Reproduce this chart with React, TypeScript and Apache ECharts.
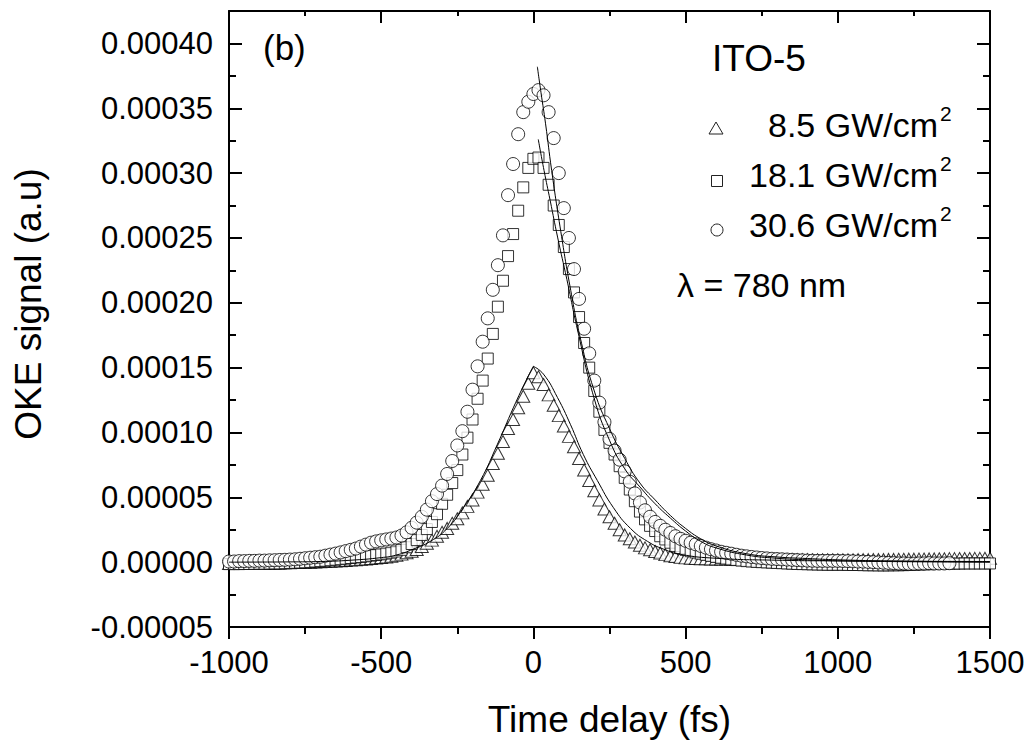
import React, { useEffect, useRef } from "react";
import * as echarts from "echarts";

// Delay grid (fs): regular sampling from X_START with step X_STEP
const X_START = -1000;
const X_STEP = 50 / 3;

// OKE signal in units of 1e-5 (a.u.)
const TRI_8_5 = [
  -0.1, -0.1, -0.1, -0.1, -0.09, -0.09, -0.08, -0.08, -0.07, -0.07,
  -0.06, -0.05, -0.04, -0.03, -0.02, -0.01, 0.0, 0.01, 0.03, 0.05,
  0.07, 0.09, 0.11, 0.13, 0.16, 0.19, 0.22, 0.25, 0.28, 0.32,
  0.36, 0.4, 0.46, 0.53, 0.62, 0.72, 0.84, 0.98, 1.2, 1.45,
  1.7, 2.0, 2.3, 2.6, 3.0, 3.35, 3.8, 4.3, 4.8, 5.4,
  6.0, 6.7, 7.6, 8.4, 9.3, 10.3, 11.0, 11.9, 12.8, 13.8,
  14.6, 14.3, 13.7, 12.9, 12.1, 11.3, 10.5, 9.7, 8.9, 8.0,
  7.1, 6.3, 5.5, 4.8, 4.1, 3.5, 3.0, 2.5, 2.1, 1.8,
  1.55, 1.3, 1.1, 0.95, 0.82, 0.7, 0.58, 0.5, 0.43, 0.37,
  0.33, 0.3, 0.28, 0.27, 0.26, 0.25, 0.25, 0.24, 0.24, 0.23,
  0.23, 0.22, 0.22, 0.22, 0.21, 0.21, 0.21, 0.2, 0.2, 0.2,
  0.2, 0.2, 0.19, 0.19, 0.19, 0.18, 0.18, 0.18, 0.18, 0.18,
  0.18, 0.18, 0.18, 0.18, 0.19, 0.19, 0.19, 0.2, 0.2, 0.2,
  0.21, 0.21, 0.22, 0.22, 0.23, 0.23, 0.24, 0.24, 0.25, 0.25,
  0.26, 0.26, 0.27, 0.27, 0.28, 0.28, 0.28, 0.29, 0.29, 0.3, 0.3,
];

const SQ_18_1 = [
  -0.15, -0.15, -0.15, -0.14, -0.14, -0.13, -0.12, -0.12, -0.11, -0.1,
  -0.1, -0.08, -0.06, -0.05, -0.03, -0.01, 0.02, 0.05, 0.08, 0.11,
  0.15, 0.19, 0.23, 0.27, 0.32, 0.36, 0.4, 0.45, 0.5, 0.55,
  0.6, 0.66, 0.73, 0.82, 0.95, 1.15, 1.4, 1.7, 2.1, 2.55,
  3.1, 3.7, 4.5, 5.2, 6.1, 7.1, 8.3, 9.6, 11.0, 12.6,
  14.0, 15.7, 17.6, 19.7, 21.7, 23.6, 25.3, 27.1, 28.9, 30.4,
  31.1, 31.2, 30.4, 29.1, 27.5, 26.0, 24.3, 22.6, 20.8, 18.9,
  16.9, 15.0, 13.2, 11.6, 10.2, 9.2, 8.3, 7.4, 6.5, 5.6,
  4.7, 3.9, 3.3, 2.8, 2.4, 2.0, 1.75, 1.5, 1.25, 1.08,
  0.95, 0.84, 0.74, 0.65, 0.56, 0.48, 0.4, 0.33, 0.27, 0.21,
  0.16, 0.12, 0.08, 0.05, 0.02, 0.0, -0.02, -0.04, -0.06, -0.08,
  -0.1, -0.12, -0.14, -0.15, -0.16, -0.17, -0.18, -0.19, -0.2, -0.2,
  -0.2, -0.2, -0.21, -0.22, -0.22, -0.23, -0.24, -0.24, -0.25, -0.25,
  -0.25, -0.24, -0.24, -0.23, -0.22, -0.2, -0.18, -0.17, -0.16, -0.15,
  -0.14, -0.13, -0.12, -0.12, -0.11, -0.1, -0.1, -0.1, -0.1, -0.1, -0.1,
];

const CIRC_30_6 = [
  0.05, 0.05, 0.08, 0.08, 0.1, 0.1, 0.12, 0.12, 0.14, 0.15,
  0.17, 0.18, 0.2, 0.22, 0.26, 0.3, 0.34, 0.38, 0.42, 0.5,
  0.58, 0.66, 0.75, 0.85, 0.95, 1.05, 1.2, 1.35, 1.5, 1.6,
  1.68, 1.75, 1.82, 1.9, 2.05, 2.3, 2.65, 3.05, 3.5, 4.05,
  4.7, 5.25, 5.9, 6.8, 7.8, 9.0, 10.1, 11.6, 13.3, 15.1,
  17.0, 18.8, 21.0, 22.9, 25.2, 28.3, 30.7, 33.0, 34.7, 35.5,
  36.1, 36.4, 36.0, 34.7, 32.7, 30.0, 27.3, 25.0, 22.6, 20.3,
  18.0, 16.1, 14.0, 12.3, 10.8, 9.5, 8.6, 7.9, 7.0, 6.2,
  5.3, 4.6, 4.0, 3.5, 3.1, 2.8, 2.5, 2.25, 2.0, 1.8,
  1.65, 1.5, 1.38, 1.25, 1.12, 1.0, 0.9, 0.8, 0.72, 0.65,
  0.57, 0.5, 0.45, 0.4, 0.36, 0.32, 0.29, 0.26, 0.24, 0.22,
  0.2, 0.18, 0.16, 0.14, 0.12, 0.11, 0.1, 0.1, 0.1, 0.1,
  0.1, 0.09, 0.08, 0.07, 0.05, 0.04, 0.02, 0.0, -0.02, -0.04,
  -0.06, -0.08, -0.1, -0.1, -0.12, -0.12, -0.1, -0.1, -0.08, -0.1,
  -0.1, -0.1, -0.08,
];

// Fit curves (x in fs, y in 1e-5)
const FIT_C_X = [13, 25, 40, 60, 90, 120, 155, 200, 250, 300, 350, 400, 450, 500, 550, 600, 700, 800, 900, 1000, 1200, 1500];
const FIT_C_Y = [38.2, 36.2, 33.8, 30.2, 25.5, 21.3, 17.2, 13.2, 10.3, 8.0, 6.1, 4.8, 3.6, 2.6, 1.8, 1.25, 0.65, 0.4, 0.28, 0.18, 0.08, 0.02];
const FIT_S_X = [16, 35, 55, 80, 110, 145, 200, 250, 300, 350, 400, 450, 500, 550, 600, 700, 800, 900, 1000, 1200, 1500];
const FIT_S_Y = [32.6, 30.2, 27.9, 25.0, 21.8, 17.9, 12.6, 9.4, 7.2, 5.8, 4.5, 3.4, 2.4, 1.6, 1.1, 0.55, 0.3, 0.18, 0.1, 0.04, 0.0];
const FIT_TL_X = [-1000, -800, -700, -600, -500, -450, -395, -339, -283, -230, -174, -118, -66, -20, 0];
const FIT_TL_Y = [0.0, 0.02, 0.05, 0.15, 0.35, 0.55, 1.0, 1.6, 2.6, 4.2, 6.3, 9.1, 11.9, 14.2, 15.1];
const FIT_TR_X = [0, 33, 79, 122, 164, 210, 263, 319, 375, 428, 483, 600, 800, 1000, 1500];
const FIT_TR_Y = [15.1, 14.5, 12.7, 10.6, 8.3, 6.3, 4.2, 2.6, 1.6, 1.0, 0.6, 0.3, 0.15, 0.1, 0.05];

// Axis ticks
const X_TICKS = [-1000, -500, 0, 500, 1000, 1500];
const X_MINOR = [-1000, -750, -500, -250, 0, 250, 500, 750, 1000, 1250, 1500];
const Y_TICKS = [-5, 0, 5, 10, 15, 20, 25, 30, 35, 40];
const Y_MINOR = [-5, -2.5, 0, 2.5, 5, 7.5, 10, 12.5, 15, 17.5, 20, 22.5, 25, 27.5, 30, 32.5, 35, 37.5, 40, 42.5];
const Y_MIN = -5;
const Y_MAX = 42.5;

const SERIES_NAMES = ["8.5 GW/cm", "18.1 GW/cm", "30.6 GW/cm"];

const FONT = '"Liberation Sans", Arial, Helvetica, sans-serif';

const grid = (arr: number[]) => arr.map((v, i) => [X_START + i * X_STEP, v]);
const pairs = (xs: number[], ys: number[]) => xs.map((x, i) => [x, ys[i]]);

export default function App() {
  const ref = useRef<HTMLDivElement>(null);
  useEffect(() => {
    if (!ref.current) return;
    const chart = echarts.init(ref.current, null, { renderer: "svg" });
    const lineStyle = { color: "#000", width: 2 };
    const baseX = {
      type: "value" as const,
      min: X_TICKS[0],
      max: X_TICKS[X_TICKS.length - 1],
      splitLine: { show: false },
    };
    const baseY = {
      type: "value" as const,
      min: Y_MIN,
      max: Y_MAX,
      splitLine: { show: false },
    };
    const marker = { color: "#fff", borderColor: "#000", borderWidth: 1 };
    const fitLine = { color: "#000", width: 1 };
    const txt = (text: string, x: number, y: number, size: number, align: string) => ({
      type: "text",
      x,
      y,
      style: {
        text, fill: "#000", fontSize: size, fontFamily: FONT,
        align, verticalAlign: "middle", textAlign: align, textVerticalAlign: "middle",
      },
    });
    chart.setOption({
      animation: false,
      backgroundColor: "#fff",
      grid: { left: 229, right: 43, top: 11, bottom: 117, containLabel: false, outerBoundsMode: "none" },
      xAxis: [
        {
          ...baseX,
          position: "bottom",
          interval: 500,
          axisLine: { show: true, onZero: false, lineStyle },
          axisTick: { show: true, inside: false, length: 12, lineStyle, customValues: X_TICKS },
          axisLabel: {
            show: true, color: "#000", fontSize: 31, fontFamily: FONT, margin: 20,
            customValues: X_TICKS, formatter: (v: number) => String(v),
          },
          name: "Time delay (fs)",
          nameLocation: "middle",
          nameGap: 74,
          nameTextStyle: { color: "#000", fontSize: 37, fontFamily: FONT },
        },
        {
          ...baseX,
          position: "bottom",
          interval: 250,
          axisLine: { show: false, onZero: false },
          axisTick: { show: true, inside: false, length: 7, lineStyle, customValues: X_MINOR },
          axisLabel: { show: false },
        },
        {
          ...baseX,
          position: "top",
          interval: 500,
          axisLine: { show: true, onZero: false, lineStyle },
          axisTick: { show: true, inside: true, length: 12, lineStyle, customValues: X_TICKS },
          axisLabel: { show: false },
        },
        {
          ...baseX,
          position: "top",
          interval: 250,
          axisLine: { show: false, onZero: false },
          axisTick: { show: true, inside: true, length: 5, lineStyle, customValues: X_MINOR },
          axisLabel: { show: false },
        },
      ],
      yAxis: [
        {
          ...baseY,
          position: "left",
          interval: 5,
          axisLine: { show: true, onZero: false, lineStyle },
          axisTick: { show: true, inside: true, length: 13, lineStyle, customValues: Y_TICKS },
          axisLabel: {
            show: true, color: "#000", fontSize: 31, fontFamily: FONT, margin: 16,
            customValues: Y_TICKS,
            formatter: (v: number) => (v * 1e-5).toFixed(5),
          },
          name: "OKE signal (a.u)",
          nameLocation: "middle",
          nameGap: 182,
          nameTextStyle: { color: "#000", fontSize: 37, fontFamily: FONT, padding: [0, 0, 0, 30] },
        },
        {
          ...baseY,
          position: "left",
          interval: 2.5,
          axisLine: { show: false, onZero: false },
          axisTick: { show: true, inside: true, length: 7, lineStyle, customValues: Y_MINOR },
          axisLabel: { show: false },
        },
        {
          ...baseY,
          position: "right",
          interval: 5,
          axisLine: { show: true, onZero: false, lineStyle },
          axisTick: { show: true, inside: true, length: 13, lineStyle, customValues: Y_TICKS },
          axisLabel: { show: false },
        },
        {
          ...baseY,
          position: "right",
          interval: 2.5,
          axisLine: { show: false, onZero: false },
          axisTick: { show: true, inside: true, length: 7, lineStyle, customValues: Y_MINOR },
          axisLabel: { show: false },
        },
      ],
      series: [
        {
          name: SERIES_NAMES[0], type: "scatter", symbol: "triangle", symbolSize: [13, 12],
          data: grid(TRI_8_5), itemStyle: marker, z: 2,
        },
        {
          name: SERIES_NAMES[1], type: "scatter", symbol: "rect", symbolSize: 11,
          data: grid(SQ_18_1), itemStyle: marker, z: 3,
        },
        {
          name: SERIES_NAMES[2], type: "scatter", symbol: "circle", symbolSize: 13,
          data: grid(CIRC_30_6), itemStyle: marker, z: 4,
        },
        { type: "line", data: pairs(FIT_TL_X, FIT_TL_Y), showSymbol: false, smooth: true, lineStyle: fitLine, z: 5 },
        { type: "line", data: pairs(FIT_TR_X, FIT_TR_Y), showSymbol: false, smooth: true, lineStyle: fitLine, z: 5 },
        { type: "line", data: pairs(FIT_S_X, FIT_S_Y), showSymbol: false, smooth: true, lineStyle: fitLine, z: 5 },
        { type: "line", data: pairs(FIT_C_X, FIT_C_Y), showSymbol: false, smooth: true, lineStyle: fitLine, z: 5 },
      ],
      graphic: [
        txt("(b)", 263, 47, 35, "left"),
        txt("ITO-5", 712, 58, 37, "left"),
        { type: "polygon", shape: { points: [[709, 134], [723, 134], [716, 122]] }, style: { fill: "#fff", stroke: "#222", lineWidth: 1 } },
        { type: "rect", shape: { x: 711.5, y: 175.5, width: 11, height: 11 }, style: { fill: "#fff", stroke: "#222", lineWidth: 1 } },
        { type: "circle", shape: { cx: 717, cy: 230, r: 6 }, style: { fill: "#fff", stroke: "#222", lineWidth: 1 } },
        txt(SERIES_NAMES[0], 938, 125, 34, "right"),
        txt("2", 940, 113, 21, "left"),
        txt(SERIES_NAMES[1], 938, 175, 34, "right"),
        txt("2", 940, 163, 21, "left"),
        txt(SERIES_NAMES[2], 938, 225, 34, "right"),
        txt("2", 940, 213, 21, "left"),
        txt("λ = 780 nm", 677, 285, 34, "left"),
      ],
    });
    return () => chart.dispose();
  }, []);
  return (
    <div
      ref={ref}
      style={{ position: "fixed", left: 0, top: 0, width: 1033, height: 744, background: "#fff" }}
    />
  );
}
